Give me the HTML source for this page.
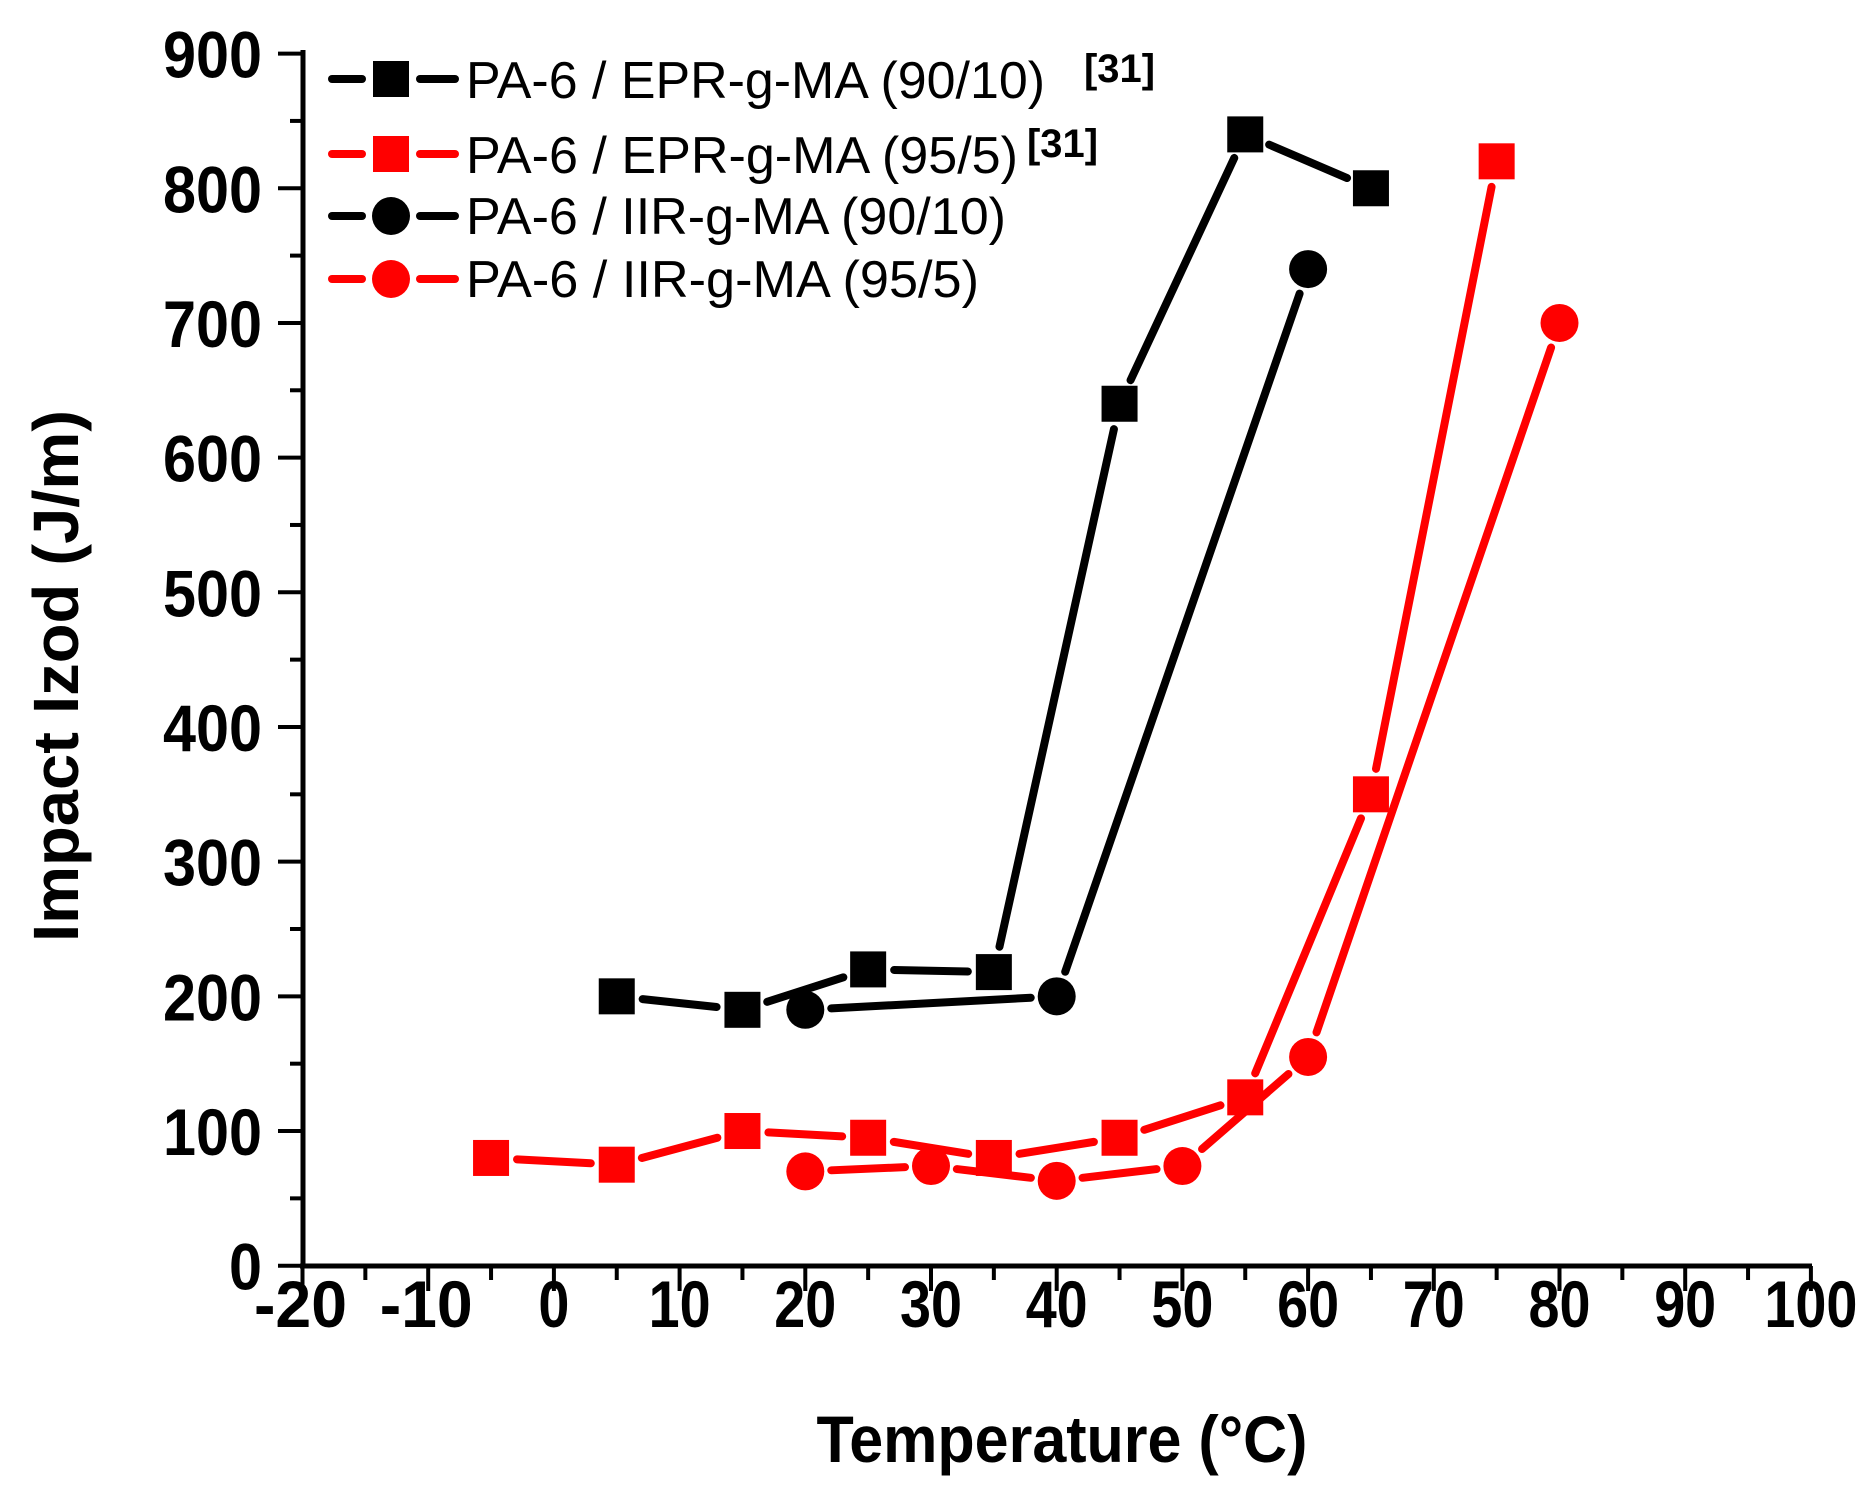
<!DOCTYPE html>
<html><head><meta charset="utf-8"><style>
html,body{margin:0;padding:0;background:#fff;}
svg{display:block;}
text{font-family:"Liberation Sans",Arial,sans-serif;}
</style></head><body>
<svg id="s" width="1872" height="1502" viewBox="0 0 1872 1502" xmlns="http://www.w3.org/2000/svg">
<rect width="1872" height="1502" fill="#fff"/>
<g id="axes"></g>
<g id="data"></g>
<g id="legend">
  <line x1="332" y1="79" x2="362" y2="79" stroke="#000" stroke-width="8" stroke-linecap="round"/>
  <line x1="420" y1="79" x2="455" y2="79" stroke="#000" stroke-width="8" stroke-linecap="round"/>
  <rect x="373" y="61" width="36" height="36" fill="#000"/>
  <line x1="332" y1="154" x2="362" y2="154" stroke="#f00" stroke-width="8" stroke-linecap="round"/>
  <line x1="420" y1="154" x2="455" y2="154" stroke="#f00" stroke-width="8" stroke-linecap="round"/>
  <rect x="373" y="136" width="36" height="36" fill="#f00"/>
  <line x1="332" y1="216" x2="362" y2="216" stroke="#000" stroke-width="8" stroke-linecap="round"/>
  <line x1="420" y1="216" x2="455" y2="216" stroke="#000" stroke-width="8" stroke-linecap="round"/>
  <circle cx="391" cy="216" r="19" fill="#000"/>
  <line x1="332" y1="279" x2="362" y2="279" stroke="#f00" stroke-width="8" stroke-linecap="round"/>
  <line x1="420" y1="279" x2="455" y2="279" stroke="#f00" stroke-width="8" stroke-linecap="round"/>
  <circle cx="391" cy="279" r="19" fill="#f00"/>
  <text x="466" y="98" font-size="52" textLength="579" lengthAdjust="spacingAndGlyphs">PA-6 / EPR-g-MA (90/10)</text>
  <text x="466" y="173" font-size="52" textLength="552" lengthAdjust="spacingAndGlyphs">PA-6 / EPR-g-MA (95/5)</text>
  <text x="466" y="234" font-size="52" textLength="540" lengthAdjust="spacingAndGlyphs">PA-6 / IIR-g-MA (90/10)</text>
  <text x="466" y="297" font-size="52" textLength="513" lengthAdjust="spacingAndGlyphs">PA-6 / IIR-g-MA (95/5)</text>
  <text x="1084" y="82" font-size="40" font-weight="bold" textLength="71" lengthAdjust="spacingAndGlyphs">[31]</text>
  <text x="1027" y="157" font-size="40" font-weight="bold" textLength="71" lengthAdjust="spacingAndGlyphs">[31]</text>
</g>
<text x="1062" y="1462" font-size="66" font-weight="bold" text-anchor="middle" textLength="491" lengthAdjust="spacingAndGlyphs">Temperature (°C)</text>
<text transform="translate(78,676) rotate(-90)" font-size="64" font-weight="bold" text-anchor="middle" textLength="532" lengthAdjust="spacingAndGlyphs">Impact Izod  (J/m)</text>
</svg>
<script>
const NS="http://www.w3.org/2000/svg";
const X=t=>553.9+12.57*t, Y=v=>1265.7-1.3468*v;
function el(p,n,a,txt){const e=document.createElementNS(NS,n);for(const k in a)e.setAttribute(k,a[k]);if(txt!==undefined)e.textContent=txt;p.appendChild(e);return e;}
const ax=document.getElementById('axes');
el(ax,'line',{x1:303,y1:50,x2:303,y2:1268,stroke:'#000','stroke-width':5});
el(ax,'line',{x1:300,y1:1266,x2:1812,y2:1266,stroke:'#000','stroke-width':5});
for(let t=-20;t<=100;t+=5){const maj=t%10===0;el(ax,'line',{x1:X(t),y1:1266,x2:X(t),y2:maj?1291:1280,stroke:'#000','stroke-width':4});
 if(maj){const s=String(t);el(ax,'text',{x:X(t)+(t<0?-2:0),y:1327,'font-size':66,'font-weight':'bold','text-anchor':'middle',textLength:s.length*31,lengthAdjust:'spacingAndGlyphs'},s);}}
for(let v=0;v<=900;v+=50){const maj=v%100===0;el(ax,'line',{x1:maj?278:290,y1:Y(v),x2:303,y2:Y(v),stroke:'#000','stroke-width':4});
 if(maj){const s=String(v);el(ax,'text',{x:262,y:Y(v)+24,'font-size':66,'font-weight':'bold','text-anchor':'end',textLength:s.length*33,lengthAdjust:'spacingAndGlyphs'},s);}}
const series=[
 {c:'#f00',m:'s',d:[[-5,80],[5,75],[15,100],[25,95],[35,80],[45,95],[55,125],[65,350],[75,820]]},
 {c:'#f00',m:'c',d:[[20,70],[30,74],[40,63],[50,74],[60,155],[80,700]]},
 {c:'#000',m:'s',d:[[5,200],[15,190],[25,220],[35,218],[45,640],[55,840],[65,800]]},
 {c:'#000',m:'c',d:[[20,190],[40,200],[60,740]]},
];
const g=document.getElementById('data');
const gap=26;
for(const s of series){
 const p=s.d.map(([t,v])=>[X(t),Y(v)]);
 for(let i=0;i<p.length-1;i++){const [x1,y1]=p[i],[x2,y2]=p[i+1];const dx=x2-x1,dy=y2-y1,L=Math.hypot(dx,dy);if(L<2*gap)continue;const ux=dx/L,uy=dy/L;
  el(g,'line',{x1:x1+ux*gap,y1:y1+uy*gap,x2:x2-ux*gap,y2:y2-uy*gap,stroke:s.c,'stroke-width':8,'stroke-linecap':'round'});}
 for(const [x,y] of p){ if(s.m==='s') el(g,'rect',{x:x-18,y:y-18,width:36,height:36,fill:s.c}); else el(g,'circle',{cx:x,cy:y,r:19,fill:s.c});}
}
</script>
</body></html>
